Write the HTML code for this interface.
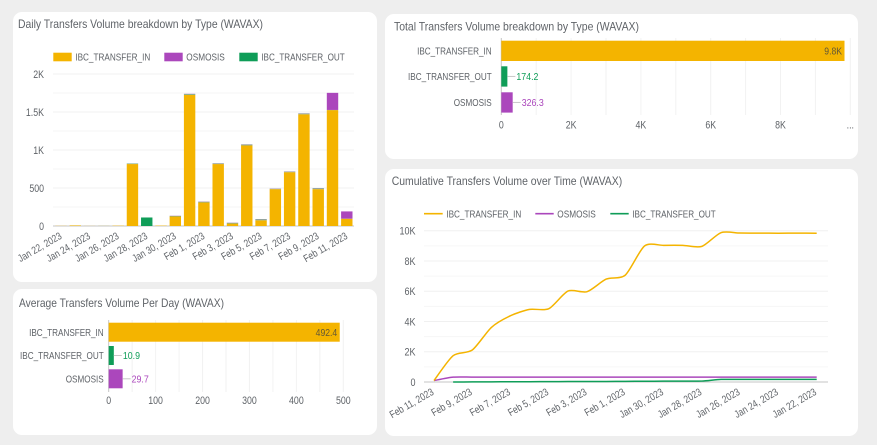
<!DOCTYPE html>
<html lang="en">
<head>
<meta charset="utf-8">
<title>WAVAX Transfers Dashboard</title>
<style>
html,body{margin:0;padding:0;background:#eeeeee;width:877px;height:445px;overflow:hidden}
svg{display:block;font-family:"Liberation Sans",sans-serif}
.card{fill:#ffffff}
.title{font-size:12px;fill:#5f6368}
.leg{font-size:10.5px;fill:#5f6368}
</style>
</head>
<body>
<svg id="dash" width="877" height="445" viewBox="0 0 877 445" xmlns="http://www.w3.org/2000/svg">
  <rect class="card" x="13" y="12" width="364" height="270" rx="9"/>
  <rect class="card" x="13" y="289" width="364" height="146" rx="9"/>
  <rect class="card" x="385" y="14" width="473" height="145" rx="9"/>
  <rect class="card" x="385" y="169" width="473" height="267" rx="9"/>

  <text class="title" x="18" y="28" textLength="245" lengthAdjust="spacingAndGlyphs">Daily Transfers Volume breakdown by Type (WAVAX)</text>
  <text class="title" x="19" y="307" textLength="205" lengthAdjust="spacingAndGlyphs">Average Transfers Volume Per Day (WAVAX)</text>
  <text class="title" x="394" y="30.5" textLength="245" lengthAdjust="spacingAndGlyphs">Total Transfers Volume breakdown by Type (WAVAX)</text>
  <text class="title" x="391.7" y="185" textLength="230.5" lengthAdjust="spacingAndGlyphs">Cumulative Transfers Volume over Time (WAVAX)</text>

  <g>
    <rect x="53.3" y="52.7" width="18.4" height="8.6" fill="#f4b400"/>
    <text class="leg" x="75.3" y="60.6" textLength="75" lengthAdjust="spacingAndGlyphs">IBC_TRANSFER_IN</text>
    <rect x="164.3" y="52.7" width="18.4" height="8.6" fill="#ab47bc"/>
    <text class="leg" x="186.3" y="60.6" textLength="38.5" lengthAdjust="spacingAndGlyphs">OSMOSIS</text>
    <rect x="239.3" y="52.7" width="18.4" height="8.6" fill="#0f9d58"/>
    <text class="leg" x="261.3" y="60.6" textLength="83.4" lengthAdjust="spacingAndGlyphs">IBC_TRANSFER_OUT</text>
  </g>

  <g>
    <line x1="424" x2="442.7" y1="213.7" y2="213.7" stroke="#f4b400" stroke-width="1.6"/>
    <text class="leg" x="446.3" y="217.6" textLength="75" lengthAdjust="spacingAndGlyphs">IBC_TRANSFER_IN</text>
    <line x1="535.3" x2="553.7" y1="213.7" y2="213.7" stroke="#ab47bc" stroke-width="1.6"/>
    <text class="leg" x="557.3" y="217.6" textLength="38.5" lengthAdjust="spacingAndGlyphs">OSMOSIS</text>
    <line x1="610.3" x2="628.7" y1="213.7" y2="213.7" stroke="#0f9d58" stroke-width="1.6"/>
    <text class="leg" x="632.3" y="217.6" textLength="83.4" lengthAdjust="spacingAndGlyphs">IBC_TRANSFER_OUT</text>
  </g>
</svg>

<script>
/* ---------- Daily chart data ---------- */
const dailyDates = ["Jan 22, 2023","Jan 23, 2023","Jan 24, 2023","Jan 25, 2023","Jan 26, 2023","Jan 27, 2023","Jan 28, 2023","Jan 29, 2023","Jan 30, 2023","Jan 31, 2023","Feb 1, 2023","Feb 2, 2023","Feb 3, 2023","Feb 4, 2023","Feb 5, 2023","Feb 6, 2023","Feb 7, 2023","Feb 8, 2023","Feb 9, 2023","Feb 10, 2023","Feb 11, 2023"];
const dailyIn      = [2,7,1,1,4,815,0,5,125,1725,310,815,32,1060,75,485,708,1470,485,1525,95];
const dailyOsmosis = [0,0,0,0,0,0,0,0,2,2,2,2,2,2,2,2,2,2,2,225,95];
const dailyOut     = [0,1,0,1,0,8,112,0,8,13,10,8,10,12,15,6,8,10,12,2,2];
const dailyTicks = [0,250,500,750,1000,1250,1500,1750,2000];
const dailyTickLabels = {0:"0",500:"500",1000:"1K",1500:"1.5K",2000:"2K"};

/* ---------- Horizontal bar chart data ---------- */
const typeCategories = ["IBC_TRANSFER_IN","IBC_TRANSFER_OUT","OSMOSIS"];
const totalValues = [9834,174.2,326.3];
const totalPrinted = ["9.8K","174.2","326.3"];
const totalTicks = [0,1000,2000,3000,4000,5000,6000,7000,8000,9000,10000];
const totalTickLabels = {0:"0",2000:"2K",4000:"4K",6000:"6K",8000:"8K",10000:"..."};
const averageValues = [492.4,10.9,29.7];
const averagePrinted = ["492.4","10.9","29.7"];
const averageTicks = [0,50,100,150,200,250,300,350,400,450,500];
const averageTickLabels = {0:"0",100:"100",200:"200",300:"300",400:"400",500:"500"};

/* ---------- Cumulative chart data ---------- */
const cumulativeDates = ["Feb 11, 2023","Feb 10, 2023","Feb 9, 2023","Feb 8, 2023","Feb 7, 2023","Feb 6, 2023","Feb 5, 2023","Feb 4, 2023","Feb 3, 2023","Feb 2, 2023","Feb 1, 2023","Jan 31, 2023","Jan 30, 2023","Jan 29, 2023","Jan 28, 2023","Jan 27, 2023","Jan 26, 2023","Jan 25, 2023","Jan 24, 2023","Jan 23, 2023","Jan 22, 2023"];
const cumulativeIn      = [95,1740,2115,3610,4380,4800,4845,6010,5970,6800,7070,8990,9030,9030,8965,9870,9845,9840,9835,9840,9834];
const cumulativeOsmosis = [95,320,322,322,322,322,322,323,323,323,323,324,324,324,324,325,326,326,326,326,326];
const cumulativeOut     = [null,0,5,10,15,20,25,30,33,36,42,50,56,56,62,170,174,174,174,174,174];
const cumulativeTicks = [0,1000,2000,3000,4000,5000,6000,7000,8000,9000,10000];
const cumulativeTickLabels = {0:"0",2000:"2K",4000:"4K",6000:"6K",8000:"8K",10000:"10K"};

/* ---------- Drawing ---------- */
const NS = "http://www.w3.org/2000/svg";
const root = document.getElementById("dash");
const GOLD = "#f4b400", PURPLE = "#ab47bc", GREEN = "#0f9d58", TEXT = "#5f6368";

function make(tag, attrs, parent) {
  const el = document.createElementNS(NS, tag);
  for (const k in attrs) el.setAttribute(k, attrs[k]);
  (parent || root).appendChild(el);
  return el;
}
function narrow(el, factor) {
  el.setAttribute("textLength", el.getComputedTextLength() * factor);
  el.setAttribute("lengthAdjust", "spacingAndGlyphs");
}
function makeGroup(name) {
  const el = make("g", {});
  
  
  return el;
}

/* Daily stacked bars */
(function () {
  const y = v => 226 - v * (152 / 2000);
  const x = i => 61 + i * 14.29;
  const g = makeGroup("daily-stacked-bar-chart");
  dailyTicks.forEach(t => {
    const line = make("line", {x1: 53, x2: 354, y1: y(t), y2: y(t), stroke: t === 0 ? "#c4c4c4" : (t % 500 === 0 ? "#f0f0f0" : "#f6f6f6"), "stroke-width": 1}, g);
    
    
    if (dailyTickLabels[t] !== undefined) {
      const label = make("text", {x: 44, y: y(t) + 3.8, "text-anchor": "end", "font-size": 11, fill: TEXT}, g);
      label.textContent = dailyTickLabels[t];
      
      
      narrow(label, 0.8);
    }
  });
  dailyDates.forEach((d, i) => {
    let base = 0;
    [[dailyIn, GOLD, "in"], [dailyOut, "#7fa98a", "out"], [dailyOsmosis, PURPLE, "osmosis"]].forEach(s => {
      const v = s[0][i];
      if (v > 0) {
        const isMainOut = s[2] === "out" && v > 50;
        const bar = make("rect", {x: x(i) - 5.7, width: 11.4, y: y(base + v), height: y(base) - y(base + v), fill: isMainOut ? GREEN : s[1]}, g);
        
        
        base += v;
      }
    });
    if (i % 2 === 0) {
      const px = x(i) + 1.5, py = 238;
      const label = make("text", {x: px, y: py, "text-anchor": "end", "font-size": 10.5, fill: TEXT, transform: "rotate(-30 " + px + " " + py + ")"}, g);
      label.textContent = d;
      
      
      narrow(label, 0.8);
    }
  });
})();

/* Horizontal bars */
function drawHorizontal(name, values, printed, ticks, tickLabels, maxVal, x0, x1, yTop, yBottom, tickY, catX, rows, barH) {
  const g = makeGroup(name);
  const x = v => x0 + v * (x1 - x0) / maxVal;
  const colors = [GOLD, GREEN, PURPLE];
  ticks.forEach(t => {
    const line = make("line", {x1: x(t), x2: x(t), y1: yTop, y2: yBottom, stroke: t === 0 ? "#c4c4c4" : "#f2f2f2", "stroke-width": 1}, g);
    
    
    if (tickLabels[t] !== undefined) {
      const label = make("text", {x: x(t), y: tickY, "text-anchor": "middle", "font-size": 11, fill: TEXT}, g);
      label.textContent = tickLabels[t];
      
      
      narrow(label, 0.8);
    }
  });
  typeCategories.forEach((c, i) => {
    const top = rows[i];
    const bar = make("rect", {x: x0, y: top, width: x(values[i]) - x0, height: barH, fill: colors[i]}, g);
    
    
    const cy = top + barH / 2;
    const cat = make("text", {x: catX, y: cy + 3.7, "text-anchor": "end", "font-size": 10.5, fill: TEXT}, g);
    cat.textContent = c;
    
    
    narrow(cat, 0.775);
    const end = x(values[i]);
    if (i === 0) {
      const val = make("text", {x: end - 2.5, y: cy + 3.7, "text-anchor": "end", "font-size": 10.5, fill: "#3c4043", "fill-opacity": 0.8}, g);
      val.textContent = printed[i];
      
      
      narrow(val, 0.82);
    } else {
      const lead = make("line", {x1: end, x2: end + 8, y1: cy, y2: cy, stroke: "#c8c8c8", "stroke-width": 1}, g);
      
      
      const val = make("text", {x: end + 9, y: cy + 3.7, "font-size": 10.5, fill: colors[i]}, g);
      val.textContent = printed[i];
      
      
      narrow(val, 0.84);
    }
  });
}
drawHorizontal("total-volume-bar-chart", totalValues, totalPrinted, totalTicks, totalTickLabels, 10000, 501.3, 850.3, 38, 115, 128.5, 491.7, [40.7, 66.3, 92.3], 20.3);
drawHorizontal("average-volume-bar-chart", averageValues, averagePrinted, averageTicks, averageTickLabels, 500, 108.7, 343.3, 320, 392, 404, 103.7, [322.7, 346, 369.3], 19);

/* Cumulative smooth lines */
(function () {
  const y = v => 382 - v * (151.3 / 10000);
  const x = i => 434 + i * 19.135;
  const g = makeGroup("cumulative-line-chart");
  cumulativeTicks.forEach(t => {
    const line = make("line", {x1: 424, x2: 828, y1: y(t), y2: y(t), stroke: t === 0 ? "#c4c4c4" : (t % 2000 === 0 ? "#f0f0f0" : "#f6f6f6"), "stroke-width": 1}, g);
    
    
    if (cumulativeTickLabels[t] !== undefined) {
      const label = make("text", {x: 415.5, y: y(t) + 3.8, "text-anchor": "end", "font-size": 11, fill: TEXT}, g);
      label.textContent = cumulativeTickLabels[t];
      
      
      narrow(label, 0.82);
    }
  });
  function smoothPath(values) {
    const pts = [];
    values.forEach((v, i) => { if (v !== null) pts.push([x(i), y(v)]); });
    let d = "M" + pts[0][0] + " " + pts[0][1];
    for (let i = 0; i < pts.length - 1; i++) {
      const p0 = pts[Math.max(i - 1, 0)], p1 = pts[i], p2 = pts[i + 1], p3 = pts[Math.min(i + 2, pts.length - 1)];
      const t = 0.13;
      d += " C" + (p1[0] + (p2[0] - p0[0]) * t) + " " + (p1[1] + (p2[1] - p0[1]) * t) + " " +
           (p2[0] - (p3[0] - p1[0]) * t) + " " + (p2[1] - (p3[1] - p1[1]) * t) + " " + p2[0] + " " + p2[1];
    }
    return d;
  }
  const outLine = make("path", {d: smoothPath(cumulativeOut), fill: "none", stroke: GREEN, "stroke-width": 1.5}, g);
  
  
  const osmosisLine = make("path", {d: smoothPath(cumulativeOsmosis), fill: "none", stroke: PURPLE, "stroke-width": 1.5}, g);
  
  
  const inLine = make("path", {d: smoothPath(cumulativeIn), fill: "none", stroke: GOLD, "stroke-width": 1.5}, g);
  
  
  cumulativeDates.forEach((d, i) => {
    if (i % 2 === 0) {
      const px = x(i) + 0.5, py = 394;
      const label = make("text", {x: px, y: py, "text-anchor": "end", "font-size": 10.5, fill: TEXT, transform: "rotate(-30 " + px + " " + py + ")"}, g);
      label.textContent = d;
      
      
      narrow(label, 0.8);
    }
  });
})();
</script>
</body>
</html>
